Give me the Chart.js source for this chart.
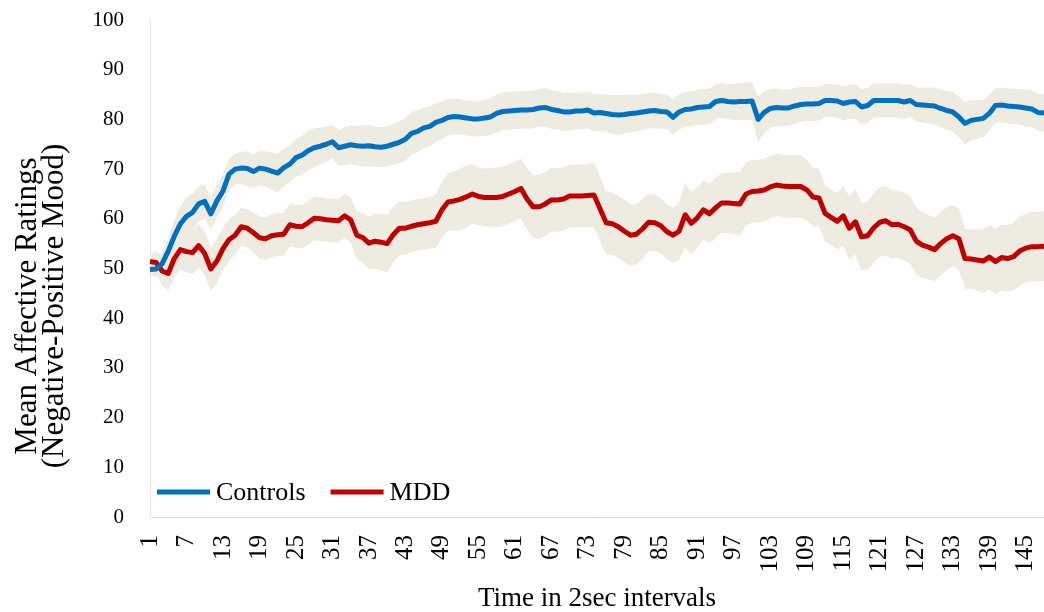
<!DOCTYPE html>
<html>
<head>
<meta charset="utf-8">
<script src="https://cdn.jsdelivr.net/npm/chart.js@4.4.1/dist/chart.umd.min.js"></script>
<style>
  html, body { margin: 0; padding: 0; background: #ffffff; }
  canvas { display: block; }
</style>
</head>
<body>
<canvas id="chart" width="1044" height="612"></canvas>
<script>
// Mean affective rating per 2-second interval, with standard error half-widths.
const controlsMean = [
  49.8, 49.9, 51.0, 53.5, 56.5, 59.0, 60.5, 61.3, 63.0, 63.5,
  61.0, 63.6, 65.6, 69.0, 70.0, 70.2, 70.1, 69.5, 70.2, 70.0,
  69.6, 69.2, 70.3, 71.0, 72.3, 72.8, 73.7, 74.3, 74.6, 75.0,
  75.5, 74.3, 74.6, 74.9, 74.7, 74.6, 74.7, 74.5, 74.4, 74.6,
  75.0, 75.4, 76.0, 77.2, 77.6, 78.3, 78.6, 79.4, 79.8, 80.4,
  80.6, 80.5, 80.3, 80.1, 80.1, 80.3, 80.5, 81.2, 81.6, 81.7,
  81.8, 81.9, 81.9, 82.0, 82.3, 82.4, 82.0, 81.8, 81.5, 81.5,
  81.7, 81.7, 81.9, 81.3, 81.4, 81.2, 81.0, 80.9, 81.0, 81.2,
  81.3, 81.5, 81.7, 81.8, 81.6, 81.5, 80.4, 81.5, 82.0, 82.1,
  82.4, 82.5, 82.6, 83.6, 83.8, 83.6, 83.5, 83.6, 83.6, 83.7,
  80.0, 81.4, 82.2, 82.4, 82.3, 82.3, 82.7, 83.0, 83.1, 83.1,
  83.2, 83.8, 83.8, 83.7, 83.2, 83.5, 83.6, 82.5, 82.8, 83.8,
  83.8, 83.8, 83.8, 83.8, 83.5, 83.8, 83.0, 82.9, 82.8, 82.7,
  82.2, 81.8, 81.5, 80.5, 79.2, 79.8, 80.0, 80.2, 81.2, 82.8,
  82.9, 82.7, 82.6, 82.5, 82.3, 82.1, 81.4, 81.3
];
const controlsSE = [
  1.2, 1.6, 2.2, 2.8, 3.2, 3.5, 3.8, 3.8, 3.6, 3.4,
  3.2, 3.3, 3.3, 3.2, 3.1, 3.3, 3.5, 3.4, 3.5, 3.6,
  3.8, 3.9, 3.8, 3.7, 3.8, 3.9, 4.0, 3.9, 3.7, 3.5,
  3.4, 3.6, 3.8, 3.9, 4.0, 4.1, 4.2, 4.1, 4.0, 4.0,
  4.1, 4.2, 4.3, 4.3, 4.2, 4.1, 4.0, 3.9, 3.8, 3.7,
  3.6, 3.6, 3.5, 3.5, 3.6, 3.6, 3.7, 3.8, 3.8, 3.8,
  3.8, 3.8, 3.8, 3.8, 3.8, 3.9, 3.9, 3.9, 3.8, 3.8,
  3.7, 3.7, 3.7, 3.7, 3.7, 3.8, 3.9, 4.0, 3.9, 3.8,
  3.7, 3.6, 3.6, 3.6, 3.5, 3.5, 3.6, 3.6, 3.5, 3.5,
  3.6, 3.6, 3.6, 3.5, 3.5, 3.5, 3.6, 3.7, 3.8, 3.8,
  4.6, 4.2, 3.9, 3.8, 3.7, 3.7, 3.6, 3.5, 3.4, 3.4,
  3.4, 3.3, 3.3, 3.3, 3.4, 3.4, 3.5, 3.6, 3.5, 3.4,
  3.4, 3.4, 3.4, 3.4, 3.4, 3.3, 3.4, 3.5, 3.6, 3.7,
  3.8, 3.9, 4.0, 4.1, 4.2, 4.1, 3.9, 3.8, 3.6, 3.5,
  3.5, 3.5, 3.6, 3.6, 3.7, 3.7, 3.7, 3.8
];
const mddMean = [
  51.4, 51.2, 49.5, 49.0, 52.0, 53.8, 53.4, 53.2, 54.6, 53.0,
  49.9, 51.5, 54.0, 55.8, 56.7, 58.4, 58.1, 57.2, 56.2, 56.0,
  56.6, 56.8, 56.9, 58.8, 58.5, 58.4, 59.2, 60.1, 60.0, 59.8,
  59.7, 59.6, 60.6, 59.8, 56.7, 56.2, 55.1, 55.5, 55.3, 55.0,
  56.8, 58.1, 58.1, 58.5, 58.8, 59.0, 59.2, 59.5, 61.8, 63.4,
  63.6, 63.9, 64.4, 65.0, 64.5, 64.3, 64.3, 64.3, 64.5, 65.0,
  65.5, 66.1, 64.0, 62.4, 62.4, 63.0, 63.8, 63.8, 64.0, 64.6,
  64.6, 64.6, 64.7, 64.8, 62.0, 59.2, 59.0, 58.4, 57.5, 56.7,
  56.9, 58.0, 59.3, 59.2, 58.6, 57.4, 56.7, 57.5, 60.8, 59.1,
  60.2, 61.8, 61.0, 62.2, 63.2, 63.2, 63.1, 63.0, 65.0, 65.5,
  65.6, 65.8, 66.4, 66.8, 66.6, 66.5, 66.5, 66.5, 65.8, 64.4,
  64.2, 61.1, 60.3, 59.5, 60.6, 58.1, 59.4, 56.4, 56.6, 58.2,
  59.3, 59.6, 58.8, 58.9, 58.4, 57.8, 55.5, 54.7, 54.3, 53.8,
  55.0, 56.0, 56.6, 56.0, 52.0, 51.9, 51.7, 51.5, 52.3, 51.4,
  52.2, 52.0, 52.4, 53.5, 54.1, 54.4, 54.4, 54.5
];
const mddSE = [
  1.5, 2.2, 3.0, 3.4, 3.8, 4.0, 4.2, 4.3, 4.4, 4.4,
  4.4, 4.4, 4.3, 4.2, 4.0, 3.8, 3.8, 4.0, 4.2, 4.3,
  4.3, 4.3, 4.3, 4.3, 4.3, 4.4, 4.4, 4.4, 4.4, 4.4,
  4.4, 4.4, 4.4, 4.6, 4.8, 5.0, 5.3, 5.5, 5.7, 5.8,
  5.6, 5.4, 5.3, 5.2, 5.2, 5.2, 5.2, 5.4, 5.6, 5.8,
  6.0, 6.2, 6.2, 6.0, 5.8, 5.8, 5.9, 6.0, 6.0, 6.0,
  6.0, 6.0, 6.2, 6.4, 6.4, 6.4, 6.4, 6.4, 6.3, 6.3,
  6.3, 6.3, 6.4, 6.5, 6.5, 6.4, 6.3, 6.3, 6.3, 6.2,
  6.1, 6.0, 5.8, 5.7, 5.6, 5.5, 5.5, 5.8, 6.5, 6.3,
  6.1, 6.0, 6.0, 6.0, 6.0, 6.1, 6.2, 6.4, 6.4, 6.3,
  6.3, 6.3, 6.3, 6.3, 6.3, 6.3, 6.3, 6.3, 6.2, 6.0,
  5.8, 5.6, 5.6, 5.7, 6.0, 6.4, 6.6, 6.8, 6.9, 7.0,
  7.0, 7.0, 6.9, 6.8, 6.8, 6.8, 6.7, 6.6, 6.5, 6.4,
  6.3, 6.3, 6.2, 6.2, 6.0, 6.0, 6.2, 6.4, 6.5, 6.6,
  6.6, 6.7, 6.8, 6.9, 6.9, 7.0, 7.0, 7.0
];

// Interval numbers along the x axis; every sixth one is labelled.
const timeLabels = controlsMean.map((_, i) => String(i + 1));
const labelEvery = 6;
const yMin = 0, yMax = 100, yStep = 10;
const yTitleLines = ['Mean Affective Ratings', '(Negative-Positive Mood)'];
const xTitle = 'Time in 2sec intervals';

const serif = "'Liberation Serif', 'Times New Roman', serif";
const bandColor = '#EEEBE1';
const controlsColor = '#0070C0';
const mddColor = '#C00000';

const upper = (m, s) => m.map((v, i) => v + s[i]);
const lower = (m, s) => m.map((v, i) => v - s[i]);

const bandStyle = {
  borderWidth: 0,
  pointRadius: 0,
  pointHoverRadius: 0,
  backgroundColor: bandColor,
  tension: 0,
  order: 2
};
const lineStyle = {
  borderWidth: 5,
  pointRadius: 0,
  pointHoverRadius: 0,
  fill: false,
  tension: 0,
  borderJoinStyle: 'round',
  borderCapStyle: 'butt',
  order: 0,
  inLegend: true
};

// Legend drawn inside the plot, bottom-left.
const insideLegend = {
  id: 'insideLegend',
  afterDatasetsDraw(chart) {
    const { ctx, chartArea } = chart;
    const items = chart.data.datasets.filter(d => d.inLegend);
    const y = chartArea.bottom - 25;
    let x = chartArea.left + 7;
    ctx.save();
    ctx.font = '26px ' + serif;
    ctx.textBaseline = 'middle';
    ctx.textAlign = 'left';
    items.forEach(d => {
      ctx.strokeStyle = d.borderColor;
      ctx.lineWidth = 5;
      ctx.lineCap = 'butt';
      ctx.beginPath();
      ctx.moveTo(x, y);
      ctx.lineTo(x + 53, y);
      ctx.stroke();
      ctx.fillStyle = '#000000';
      ctx.fillText(d.label, x + 59, y + 1);
      x += 59 + ctx.measureText(d.label).width + 25;
    });
    ctx.restore();
  }
};

// Two-line vertical axis title, centred on the full chart height.
const yAxisTitle = {
  id: 'yAxisTitle',
  afterDraw(chart) {
    const { ctx, height } = chart;
    const centres = [28, 55];
    ctx.save();
    ctx.font = '31px ' + serif;
    ctx.fillStyle = '#000000';
    ctx.textAlign = 'center';
    ctx.textBaseline = 'middle';
    yTitleLines.forEach((line, i) => {
      ctx.save();
      ctx.translate(centres[i], height / 2);
      ctx.rotate(-Math.PI / 2);
      ctx.fillText(line, 0, 0);
      ctx.restore();
    });
    ctx.restore();
  }
};

new Chart(document.getElementById('chart'), {
  type: 'line',
  data: {
    labels: timeLabels,
    datasets: [
      Object.assign({ label: 'Controls upper', data: upper(controlsMean, controlsSE), fill: '+1' }, bandStyle),
      Object.assign({ label: 'Controls lower', data: lower(controlsMean, controlsSE), fill: false }, bandStyle),
      Object.assign({ label: 'MDD upper', data: upper(mddMean, mddSE), fill: '+1' }, bandStyle),
      Object.assign({ label: 'MDD lower', data: lower(mddMean, mddSE), fill: false }, bandStyle),
      Object.assign({ label: 'Controls', data: controlsMean, borderColor: controlsColor, backgroundColor: controlsColor }, lineStyle),
      Object.assign({ label: 'MDD', data: mddMean, borderColor: mddColor, backgroundColor: mddColor }, lineStyle)
    ]
  },
  options: {
    responsive: false,
    animation: false,
    devicePixelRatio: 1,
    layout: { padding: { top: 20, left: 0, right: 0, bottom: 0 } },
    plugins: {
      legend: { display: false },
      tooltip: { enabled: false }
    },
    scales: {
      x: {
        type: 'category',
        offset: false,
        grid: { display: false, drawTicks: false },
        border: { display: true, color: '#D9D9D9', width: 1 },
        ticks: {
          autoSkip: false,
          maxRotation: 90,
          minRotation: 90,
          padding: 18,
          color: '#000000',
          font: { family: serif, size: 25 },
          callback: (v, i) => (i % labelEvery === 0 ? timeLabels[i] : '')
        },
        title: {
          display: true,
          text: xTitle,
          color: '#000000',
          font: { family: serif, size: 27, lineHeight: 1.0 },
          padding: { top: 0, bottom: 0 }
        },
        afterFit(scale) {
          scale.height = 95;
          scale.paddingLeft = 0;
          scale.paddingRight = 0;
        }
      },
      y: {
        min: yMin,
        max: yMax,
        grid: { display: false, drawTicks: false },
        border: { display: true, color: '#E4E4E4', width: 1 },
        ticks: {
          stepSize: yStep,
          padding: 26,
          color: '#000000',
          font: { family: serif, size: 21 }
        },
        title: { display: false },
        afterFit(scale) {
          scale.width = 150;
          scale.paddingTop = 0;
          scale.paddingBottom = 0;
        }
      }
    }
  },
  plugins: [insideLegend, yAxisTitle]
});
</script>
</body>
</html>
